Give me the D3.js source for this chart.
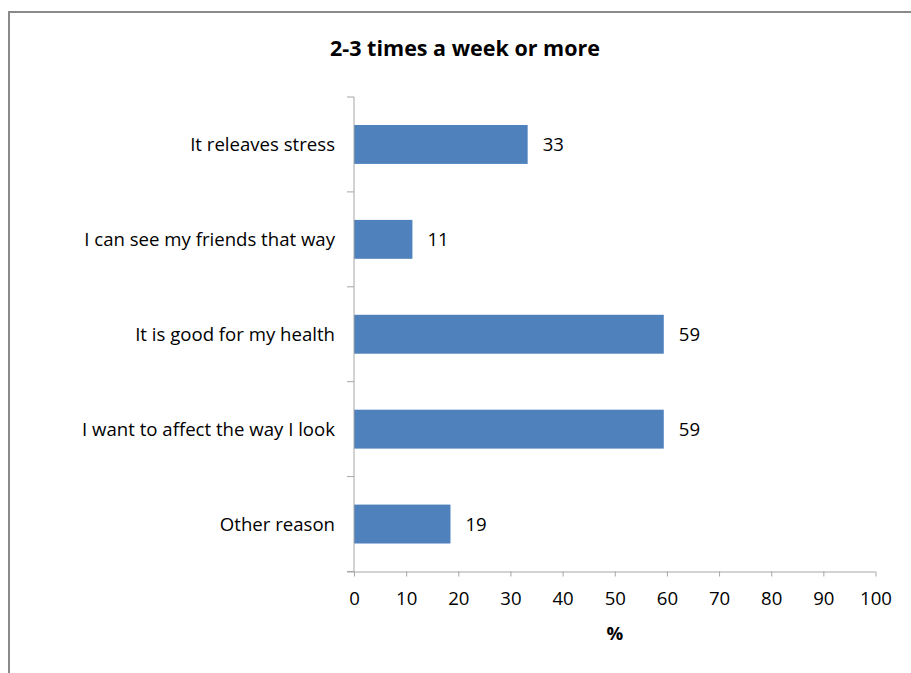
<!DOCTYPE html>
<html><head><meta charset="utf-8">
<script src="https://cdn.jsdelivr.net/npm/d3@7"></script>
<style>body{margin:0;background:#fff}svg{display:block}</style>
</head><body>
<script>
const categories = ["It releaves stress","I can see my friends that way","It is good for my health","I want to affect the way I look","Other reason"];
const values = [33.3, 11.2, 59.4, 59.4, 18.5];
const xTicks = [0,10,20,30,40,50,60,70,80,90,100];
const title = "2-3 times a week or more";
const xLabel = "%";

const W = 911, H = 673;
const svg = d3.select("body").append("svg").attr("width", W).attr("height", H);
svg.append("rect").attr("width", W).attr("height", H).attr("fill", "#fff");
svg.append("path").attr("d", `M9,${H} V12 H${W}`).attr("fill","none").attr("stroke","#8a8a8a").attr("stroke-width",2);

const font = "'Open Sans', 'Liberation Sans', sans-serif";
const fs = 18.6;
const m = {left: 354, right: 875.5, top: 97, bottom: 571.5};
const x = d3.scaleLinear().domain([0,100]).range([m.left, m.right]);
const y = d3.scaleBand().domain(categories).range([m.top, m.bottom]).paddingInner(0.59).paddingOuter(0.295);

svg.append("text").attr("x", 465).attr("y", 48).attr("dy","0.35em").attr("text-anchor","middle")
  .attr("font-family", font).attr("font-weight","bold").attr("font-size", 21.5).attr("fill","#000").text(title);

svg.selectAll("rect.bar").data(values).join("rect").attr("class","bar")
  .attr("x", x(0)).attr("y", (d,i)=>y(categories[i])).attr("width", d=>x(d)-x(0)).attr("height", y.bandwidth())
  .attr("fill", "#4f81bd");

svg.selectAll("text.val").data(values).join("text").attr("class","val")
  .attr("x", d=>x(d)+15).attr("y", (d,i)=>y(categories[i])+y.bandwidth()/2).attr("dy","0.35em")
  .attr("font-family", font).attr("font-size", fs).attr("fill","#000").text(d=>Math.round(d));

const xAxis = d3.axisBottom(x).tickValues(xTicks).tickSize(5).tickSizeOuter(0).tickPadding(15);
const gx = svg.append("g").attr("transform", `translate(0,${m.bottom})`).call(xAxis);
gx.select(".domain").attr("stroke","#a6a6a6").attr("d", `M${m.left-7},0.5H${m.right}`);
gx.selectAll(".tick line").attr("stroke","#a6a6a6");
gx.selectAll(".tick text").attr("font-family", font).attr("font-size", fs).attr("fill","#000");

const yAxis = svg.append("g");
yAxis.append("line").attr("x1", m.left).attr("x2", m.left).attr("y1", m.top).attr("y2", m.bottom).attr("stroke","#a6a6a6");
const bounds = d3.range(categories.length+1).map(i => m.top + (m.bottom-m.top)*i/categories.length);
yAxis.selectAll("line.t").data(bounds).join("line").attr("class","t")
  .attr("x1", m.left-7).attr("x2", m.left).attr("y1", d=>d).attr("y2", d=>d).attr("stroke","#a6a6a6");
yAxis.selectAll("text").data(categories).join("text")
  .attr("x", m.left-19).attr("y", d=>y(d)+y.bandwidth()/2).attr("dy","0.35em").attr("text-anchor","end")
  .attr("font-family", font).attr("font-size", fs).attr("fill","#000").text(d=>d);

svg.append("text").attr("x", 615).attr("y", 633).attr("dy","0.35em").attr("text-anchor","middle")
  .attr("font-family", font).attr("font-weight","bold").attr("font-size", fs).attr("fill","#000").text(xLabel);
</script>
</body></html>
